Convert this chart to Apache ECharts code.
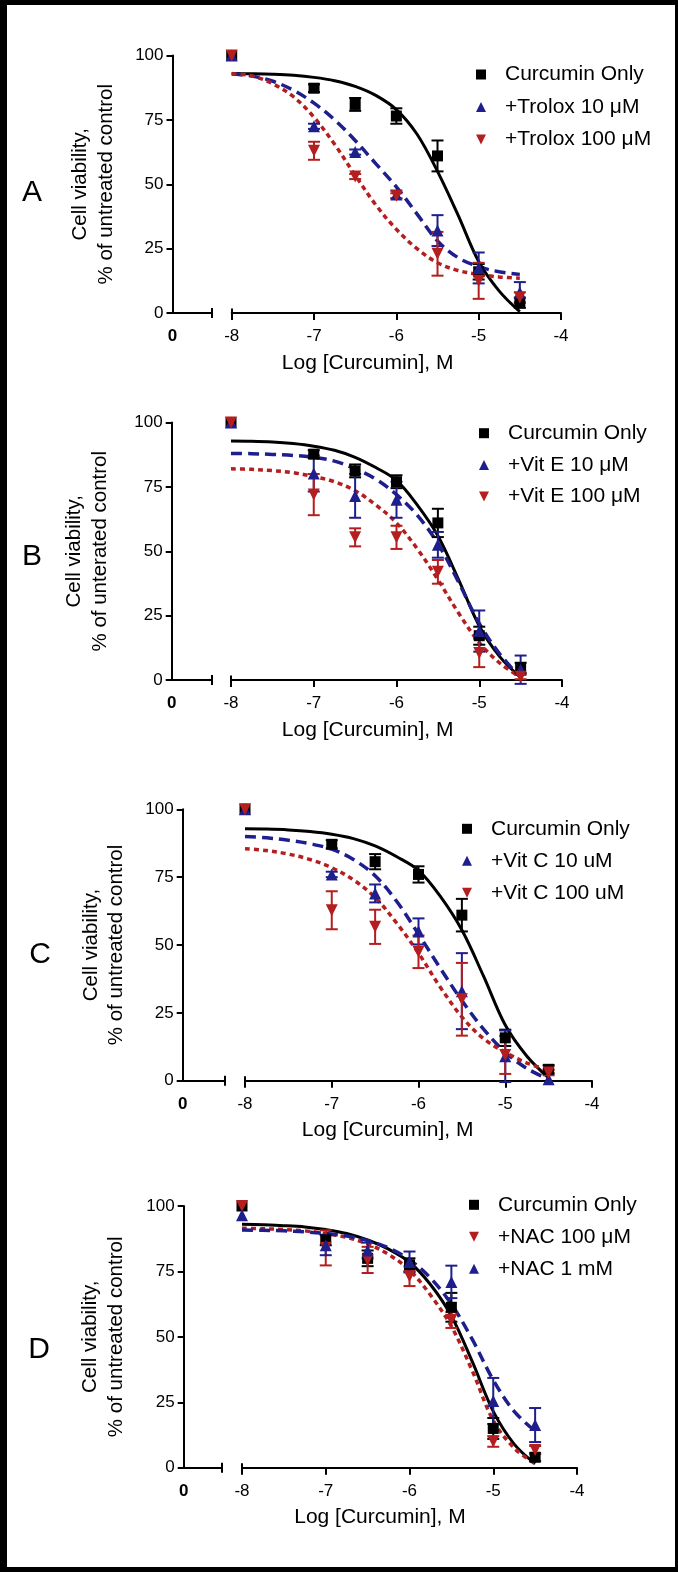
<!DOCTYPE html>
<html><head><meta charset="utf-8">
<script src="https://cdn.jsdelivr.net/npm/echarts@6/dist/echarts.min.js"></script>
<style>
html,body{margin:0;padding:0;background:#fff;}
#chart{position:absolute;left:0;top:0;width:678px;height:1572px;}
#frame{position:absolute;left:0;top:0;width:678px;height:1572px;box-sizing:border-box;border-style:solid;border-color:#000;border-width:5px 3px 5px 7px;pointer-events:none;}
</style></head><body>
<div id="chart"></div><div id="frame"></div>
<script>
// ---------- data ----------
const concX = [-8, -7, -6.5, -6, -5.5, -5, -4.5];
const fitX = [-8, -7.75, -7.5, -7.25, -7, -6.75, -6.5, -6.25, -6, -5.75, -5.5, -5.25, -5, -4.75, -4.5];
const xTickValues = [-8, -7, -6, -5, -4];
const yTickValues = [0, 25, 50, 75, 100];
const brokenAxisLabel = '0';

// Panel A
const aCurMean = [100, 87.3, 81, 76.5, 61, 16, 4];
const aCurErr = [0, 1.5, 2.5, 3, 6, 3, 2];
const aT10Mean = [100, 72.5, 62.5, 46, 32, 17.5, 8];
const aT10Err = [0, 1, 1, 1.5, 6, 6, 4];
const aT100Mean = [100, 63, 53, 45.5, 23, 12.5, 6];
const aT100Err = [0, 3.5, 1, 1, 8.5, 7, 2];
const aCurFit = [93, 92.9, 92.7, 92.3, 91.5, 90.2, 88, 84.5, 79, 69.5, 55, 38, 20, 8.5, 0.5];
const aT10Fit = [92.8, 92, 90, 86.5, 81.5, 75, 67, 58, 49, 38.5, 28, 21.5, 18, 16, 15];
const aT100Fit = [93, 92, 89, 84, 76, 65.5, 53.5, 42, 32.5, 25, 19.5, 16.5, 15, 14, 13.5];

// Panel B
const bCurMean = [100, 87.7, 81.2, 77, 61, 17.2, 4.7];
const bCurErr = [0, 1.5, 2.5, 2.5, 5.5, 3.5, 2];
const bE10Mean = [100, 80.2, 71.5, 70, 52.5, 19, 4];
const bE10Err = [0, 7, 8.5, 7, 5, 8, 5.5];
const bE100Mean = [100, 72, 55.4, 55.4, 42, 10.5, 1.3];
const bE100Err = [0, 8, 3.5, 4.5, 4.6, 5.5, 1];
const bCurFit = [92.8, 92.7, 92.4, 91.8, 90.8, 89.2, 86.5, 82.5, 77.5, 68, 56, 39, 21, 9, 1];
const bE10Fit = [88, 87.9, 87.6, 87.2, 86.5, 85, 82, 78, 72, 64, 53, 38, 22, 10, 1];
const bE100Fit = [82, 81.8, 81.3, 80.5, 79, 77, 73.5, 68, 61, 51, 39, 26, 14.5, 6.5, 1];

// Panel C
const cCurMean = [100, 87.1, 80.7, 76, 61, 15.8, 4.2];
const cCurErr = [0, 1.5, 2.8, 3, 6, 3, 1.5];
const cC10Mean = [100, 76, 69, 55, 33, 9, 0.5];
const cC10Err = [0, 1, 3.3, 4.8, 14, 9.5, 0];
const cC100Mean = [100, 62.8, 56.7, 47.5, 30, 9.5, 3];
const cC100Err = [0, 7, 6.3, 6, 13.4, 7, 1];
const cCurFit = [92.8, 92.7, 92.4, 91.8, 90.8, 89.2, 86.5, 82.5, 77.5, 68, 55.5, 38.5, 20.5, 9, 1];
const cC10Fit = [90, 89.5, 88.6, 87.3, 85.3, 81.5, 75.5, 66, 54, 41.5, 29.5, 19, 10.5, 4.5, 0.5];
const cC100Fit = [85.5, 84.8, 83.5, 81.5, 78.5, 74, 67.5, 58, 47, 34.5, 23.5, 15.5, 10.5, 6.5, 4];

// Panel D
const dCurMean = [100, 87, 80, 77.5, 61.3, 15, 4];
const dCurErr = [0, 2, 3, 2.5, 5.5, 4, 1.5];
const dN100Mean = [100, 84, 79.4, 73.2, 56.4, 10, 6.8];
const dN100Err = [0, 6.7, 5, 3.8, 3, 2, 1.5];
const dN1Mean = [96.5, 85, 83, 78.6, 71, 25.5, 16.3];
const dN1Err = [0, 3.8, 3, 4, 6.2, 8.8, 6.5];
const dCurFit = [93, 92.8, 92.5, 92, 91, 89.5, 87, 83.5, 78.5, 70, 58, 40.5, 21.5, 9, 1.5];
const dN100Fit = [91.5, 91.3, 91, 90.5, 89.5, 88, 85.5, 81.5, 75.5, 66, 54, 37, 18, 7.5, 1.5];
const dN1Fit = [90.8, 90.7, 90.5, 90.1, 89.5, 88.5, 86.8, 84, 79.5, 72.5, 62.5, 49, 33.5, 21.5, 14];

// ---------- styles / layout ----------
const FONT = '"Liberation Sans", Arial, sans-serif';
const BLACK = '#000000', BLUE = '#1e1e8c', RED = '#b41e1e';
const DOWN = 'path://M0,0L10,0L5,10Z';
const SOLID = 'solid', DASH = [11, 6], DOT = [5, 4];

const panels = [
  {letter: 'A', letterPos: [32, 193], yAxisX: 172.5, breakX: 211.7, x8: 231.7, x4: 561, yTop: 55.5, yBot: 313,
   nameGap: 53.5, yTitle: 'Cell viability,\n% of untreated control', xTitleX: 367.6, legend: {x: 481, y: 74, pitch: 31.5},
   series: [
     {name: 'Curcumin Only', color: BLACK, symbol: 'rect', size: 11, mean: aCurMean, err: aCurErr, fit: aCurFit, dash: SOLID, w: 3},
     {name: '+Trolox 10 \u03bcM', color: BLUE, symbol: 'triangle', size: 12, mean: aT10Mean, err: aT10Err, fit: aT10Fit, dash: DASH, w: 3.5},
     {name: '+Trolox 100 \u03bcM', color: RED, symbol: DOWN, size: 12, mean: aT100Mean, err: aT100Err, fit: aT100Fit, dash: DOT, w: 3.5}
   ]},
  {letter: 'B', letterPos: [32, 557], yAxisX: 171.7, breakX: 211.7, x8: 231, x4: 562, yTop: 422.5, yBot: 680,
   nameGap: 59, yTitle: 'Cell viability,\n% of unterated control', xTitleX: 367.6, legend: {x: 484, y: 432.7, pitch: 30.7},
   series: [
     {name: 'Curcumin Only', color: BLACK, symbol: 'rect', size: 11, mean: bCurMean, err: bCurErr, fit: bCurFit, dash: SOLID, w: 3},
     {name: '+Vit E 10 \u03bcM', color: BLUE, symbol: 'triangle', size: 12, mean: bE10Mean, err: bE10Err, fit: bE10Fit, dash: DASH, w: 3.5},
     {name: '+Vit E 100 \u03bcM', color: RED, symbol: DOWN, size: 12, mean: bE100Mean, err: bE100Err, fit: bE100Fit, dash: DOT, w: 3.5}
   ]},
  {letter: 'C', letterPos: [40, 955], yAxisX: 182.7, breakX: 224.3, x8: 245, x4: 592, yTop: 809.3, yBot: 1080.7,
   nameGap: 53.5, yTitle: 'Cell viability,\n% of untreated control', xTitleX: 387.6, legend: {x: 467, y: 828.3, pitch: 31},
   series: [
     {name: 'Curcumin Only', color: BLACK, symbol: 'rect', size: 11, mean: cCurMean, err: cCurErr, fit: cCurFit, dash: SOLID, w: 3},
     {name: '+Vit C 10 uM', color: BLUE, symbol: 'triangle', size: 12, mean: cC10Mean, err: cC10Err, fit: cC10Fit, dash: DASH, w: 3.5},
     {name: '+Vit C 100 uM', color: RED, symbol: DOWN, size: 12, mean: cC100Mean, err: cC100Err, fit: cC100Fit, dash: DOT, w: 3.5}
   ]},
  {letter: 'D', letterPos: [39, 1350], yAxisX: 183.7, breakX: 221.8, x8: 242, x4: 577, yTop: 1206, yBot: 1467.7,
   nameGap: 54.7, yTitle: 'Cell viability,\n% of untreated control', xTitleX: 380, legend: {x: 474, y: 1204.3, pitch: 31},
   series: [
     {name: 'Curcumin Only', color: BLACK, symbol: 'rect', size: 11, mean: dCurMean, err: dCurErr, fit: dCurFit, dash: SOLID, w: 3},
     {name: '+NAC 100 \u03bcM', color: RED, symbol: DOWN, size: 12, mean: dN100Mean, err: dN100Err, fit: dN100Fit, dash: DOT, w: 3.5},
     {name: '+NAC 1 mM', color: BLUE, symbol: 'triangle', size: 12, mean: dN1Mean, err: dN1Err, fit: dN1Fit, dash: DASH, w: 3.5}
   ]}
];

function errRenderer(color) {
  return function (params, api) {
    const x = api.value(0), y = api.value(1), e = api.value(2);
    if (!e) return {type: 'group', children: []};
    const top = api.coord([x, y + e]), bot = api.coord([x, y - e]);
    const hw = 6;
    const style = {stroke: color, lineWidth: 2};
    return {type: 'group', children: [
      {type: 'line', shape: {x1: top[0], y1: top[1], x2: bot[0], y2: bot[1]}, style: style},
      {type: 'line', shape: {x1: top[0] - hw, y1: top[1], x2: top[0] + hw, y2: top[1]}, style: style},
      {type: 'line', shape: {x1: bot[0] - hw, y1: bot[1], x2: bot[0] + hw, y2: bot[1]}, style: style}
    ]};
  };
}

const grid = [], xAxis = [], yAxis = [], series = [], legend = [], graphic = [];
const axisLineStyle = {color: BLACK, width: 2};
const tickLabel = {color: BLACK, fontFamily: FONT, fontSize: 17};

panels.forEach(function (p) {
  const h = p.yBot - p.yTop;
  const gL = grid.length;
  grid.push({left: p.yAxisX, top: p.yTop, width: p.breakX - p.yAxisX, height: h, containLabel: false, outerBoundsMode: 'none'});
  const gM = grid.length;
  grid.push({left: p.x8, top: p.yTop, width: p.x4 - p.x8, height: h, containLabel: false, outerBoundsMode: 'none'});

  // short left segment of broken x axis
  xAxis.push({gridIndex: gL, type: 'value', min: 0, max: 1, position: 'bottom',
    axisLine: {show: true, lineStyle: axisLineStyle},
    axisTick: {show: true, length: 5, lineStyle: {width: 2, color: BLACK}, customValues: [1]},
    axisLabel: {show: true, margin: 15, customValues: [0], formatter: function () { return brokenAxisLabel; },
      color: BLACK, fontFamily: FONT, fontSize: 17, fontWeight: 'bold'},
    splitLine: {show: false}});
  xAxis.push({gridIndex: gL, type: 'value', min: 0, max: 1, position: 'bottom', offset: 0,
    axisLine: {show: false}, axisLabel: {show: false}, splitLine: {show: false},
    axisTick: {show: true, inside: true, length: 5, lineStyle: {width: 2, color: BLACK}, customValues: [1]}});
  // main log axis
  const xMain = xAxis.length;
  xAxis.push({gridIndex: gM, type: 'value', min: -8, max: -4, interval: 1, position: 'bottom',
    axisLine: {show: true, lineStyle: axisLineStyle},
    axisTick: {show: true, length: 7, lineStyle: {width: 2, color: BLACK}, customValues: xTickValues},
    axisLabel: Object.assign({margin: 15, customValues: xTickValues}, tickLabel),
    splitLine: {show: false}});
  xAxis.push({gridIndex: gM, type: 'value', min: -8, max: -4, position: 'bottom', offset: 0,
    axisLine: {show: false}, axisLabel: {show: false}, splitLine: {show: false},
    axisTick: {show: true, inside: true, length: 4.5, lineStyle: {width: 2, color: BLACK}, customValues: [-8]}});

  yAxis.push({gridIndex: gL, type: 'value', min: 0, max: 100, interval: 25, position: 'left',
    axisLine: {show: true, lineStyle: axisLineStyle},
    axisTick: {show: true, length: 6, lineStyle: {width: 2, color: BLACK}, customValues: yTickValues},
    axisLabel: Object.assign({margin: 9, customValues: yTickValues}, tickLabel),
    splitLine: {show: false},
    name: p.yTitle, nameLocation: 'middle', nameRotate: 90, nameGap: p.nameGap, nameMoveOverlap: false,
    nameTextStyle: {color: BLACK, fontFamily: FONT, fontSize: 20.5, lineHeight: 25.5}});
  const yMain = yAxis.length;
  yAxis.push({gridIndex: gM, type: 'value', min: 0, max: 100, show: false});

  p.series.forEach(function (s) {
    series.push({type: 'line', xAxisIndex: xMain, yAxisIndex: yMain, z: 2, silent: true,
      data: fitX.map(function (x, k) { return [x, s.fit[k]]; }),
      showSymbol: false, smooth: 0.35,
      lineStyle: {color: s.color, width: s.w, type: s.dash, cap: 'butt'}});
  });
  p.series.forEach(function (s) {
    series.push({type: 'custom', xAxisIndex: xMain, yAxisIndex: yMain, z: 3, silent: true,
      renderItem: errRenderer(s.color),
      data: concX.map(function (x, k) { return [x, s.mean[k], s.err[k]]; })});
  });
  p.series.forEach(function (s) {
    series.push({type: 'scatter', name: s.name, xAxisIndex: xMain, yAxisIndex: yMain, z: 4,
      symbol: s.symbol, symbolSize: s.size,
      itemStyle: {color: s.color, opacity: 1},
      data: concX.map(function (x, k) { return [x, s.mean[k]]; })});
  });

  legend.push({orient: 'vertical', left: p.legend.x - 5, top: p.legend.y - 10,
    itemWidth: 10, itemHeight: 10, itemGap: p.legend.pitch - 20, selectedMode: false, padding: 0,
    textStyle: {color: BLACK, fontFamily: FONT, fontSize: 21, lineHeight: 20, padding: [0, 0, 0, 14]},
    data: p.series.map(function (s) { return {name: s.name, icon: s.symbol}; })});

  graphic.push({type: 'text', x: p.letterPos[0], y: p.letterPos[1],
    style: {text: p.letter, fill: BLACK, font: '30px ' + FONT, align: 'center', verticalAlign: 'middle'}});
  graphic.push({type: 'text', x: p.xTitleX, y: p.yBot + 50,
    style: {text: 'Log [Curcumin], M', fill: BLACK, font: '21px ' + FONT, align: 'center', verticalAlign: 'middle'}});
});

const chart = echarts.init(document.getElementById('chart'), null, {renderer: 'canvas'});
chart.setOption({
  animation: false,
  backgroundColor: '#ffffff',
  grid: grid, xAxis: xAxis, yAxis: yAxis, series: series, legend: legend, graphic: graphic
});
</script>
</body></html>
